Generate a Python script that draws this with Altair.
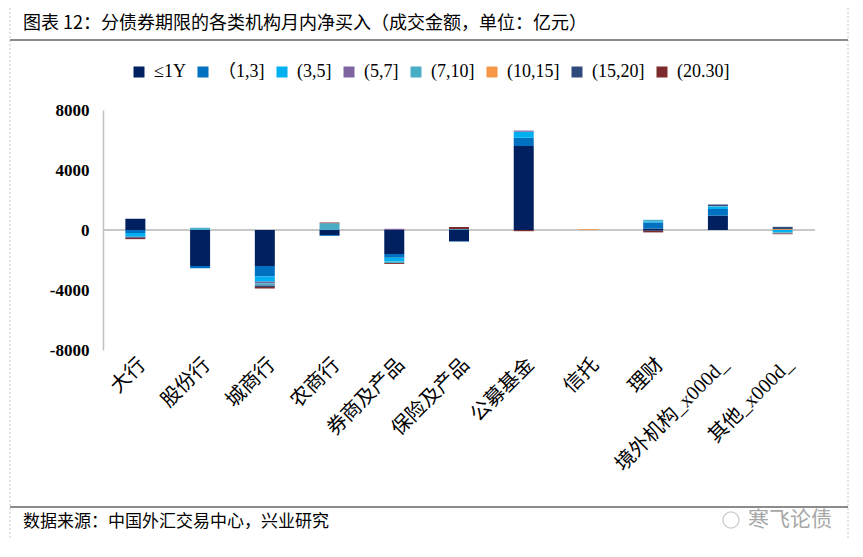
import altair as alt
import pandas as pd

categories = ["大行", "股份行", "城商行", "农商行", "券商及产品", "保险及产品",
              "公募基金", "信托", "理财", "境外机构_x000d_", "其他_x000d_"]
series = ["≤1Y", "（1,3]", "(3,5]", "(5,7]", "(7,10]", "(10,15]", "(15,20]", "(20.30]"]
colors = ["#002060", "#0070C0", "#00B0F0", "#8064A2", "#4BACC6", "#F79646", "#2F4B7C", "#7B2B2B"]

v_le1 = [750, -2400, -2400, -350, -1600, -750, 5600, 0, 100, 950, 0]
v_1_3 = [-200, -150, -700, -50, -250, -30, 550, 0, 400, 450, 0]
v_3_5 = [-250, 0, -350, 0, -250, 50, 400, 0, 80, 150, -150]
v_5_7 = [-30, 0, -100, 0, 80, 0, 80, 0, 0, 0, 0]
v_7_10 = [0, 150, -150, 450, -100, 0, 0, 0, 100, 50, -80]
v_10_15 = [0, 0, 0, 0, 0, 0, 0, 50, 0, 0, 60]
v_15_20 = [-50, 0, -100, 0, 0, 0, 0, 0, -60, 100, 150]
v_20_30 = [-80, 0, -100, 50, -60, 150, -80, 0, -100, 0, -50]

values = [v_le1, v_1_3, v_3_5, v_5_7, v_7_10, v_10_15, v_15_20, v_20_30]

rows = []
for si, (s, vals) in enumerate(zip(series, values)):
    for ci, c in enumerate(categories):
        rows.append({"cat": c, "series": s, "ord": si, "value": vals[ci]})
df = pd.DataFrame(rows)

SERIF_CJK = "Liberation Serif, Noto Sans CJK SC"

zero = alt.Chart(pd.DataFrame({"y": [0]})).mark_rule(color="#C8C8C8", strokeWidth=2).encode(
    y=alt.Y("y:Q")
)

bars = alt.Chart(df).mark_bar(size=20).encode(
    x=alt.X("cat:N", sort=categories,
            axis=alt.Axis(title=None, labelAngle=-45, domain=False, ticks=False,
                          labelFont=SERIF_CJK, labelFontSize=20, labelColor="#000",
                          labelPadding=4, labelLimit=400)),
    y=alt.Y("value:Q", stack="zero", scale=alt.Scale(domain=[-8000, 8000], nice=False),
            axis=alt.Axis(title=None, values=[-8000, -4000, 0, 4000, 8000], grid=False,
                          format="d", labelExpr="replace(datum.label, '\u2212', '-')",
                          ticks=False, domainColor="#BFBFBF", domainWidth=1.5,
                          labelFont="Liberation Serif", labelFontWeight="bold",
                          labelFontSize=17, labelColor="#000", labelPadding=14)),
    color=alt.Color("series:N", scale=alt.Scale(domain=series, range=colors),
                    legend=alt.Legend(title=None, orient="none", direction="horizontal",
                                      legendX=27, legendY=-47, symbolType="square",
                                      symbolSize=121, symbolStrokeWidth=0,
                                      labelFont=SERIF_CJK, labelFontSize=18,
                                      labelColor="#000", columnPadding=8,
                                      labelOffset=6)),
    order=alt.Order("ord:Q", sort="ascending"),
)

one = pd.DataFrame({"a": [0]})

title = alt.Chart(one).mark_text(
    text="图表 12：分债券期限的各类机构月内净买入（成交金额，单位：亿元）",
    align="left", baseline="middle", font="Noto Sans CJK SC", fontSize=18, color="#000"
).encode(x=alt.value(-80), y=alt.value(-86))

footer = alt.Chart(one).mark_text(
    text="数据来源：中国外汇交易中心，兴业研究",
    align="left", baseline="middle", font="Noto Sans CJK SC", fontSize=17, color="#000"
).encode(x=alt.value(-80), y=alt.value(412))

watermark = alt.Chart(one).mark_text(
    text="寒飞论债", align="left", baseline="middle", font="Noto Sans CJK SC",
    fontSize=21, color="#A8A8A8"
).encode(x=alt.value(645), y=alt.value(410))

wm_icon = alt.Chart(one).mark_point(shape="circle", size=260, color="#B0B0B0",
                                     strokeWidth=1.2).encode(
    x=alt.value(628), y=alt.value(410))

line_top = alt.Chart(one).mark_rule(color="#8C8C8C", strokeWidth=2).encode(
    x=alt.value(-93), x2=alt.value(745), y=alt.value(-70))
line_bot = alt.Chart(one).mark_rule(color="#8C8C8C", strokeWidth=2).encode(
    x=alt.value(-93), x2=alt.value(745), y=alt.value(397))
frame = alt.Chart(one).mark_rect(filled=False, stroke="#C8C8C8", strokeDash=[2, 2],
                                  strokeWidth=1).encode(
    x=alt.value(-93), x2=alt.value(745), y=alt.value(-108), y2=alt.value(440))

chart = alt.layer(frame, line_top, line_bot, title, footer, watermark, wm_icon, zero, bars).properties(
    width=712, height=240,
    padding={"left": 95, "top": 102, "right": 40, "bottom": 190},
    autosize=alt.AutoSizeParams(type="none"),
).configure_view(stroke=None)

chart.save("out.html", embed_options={"renderer": "svg", "actions": False})
